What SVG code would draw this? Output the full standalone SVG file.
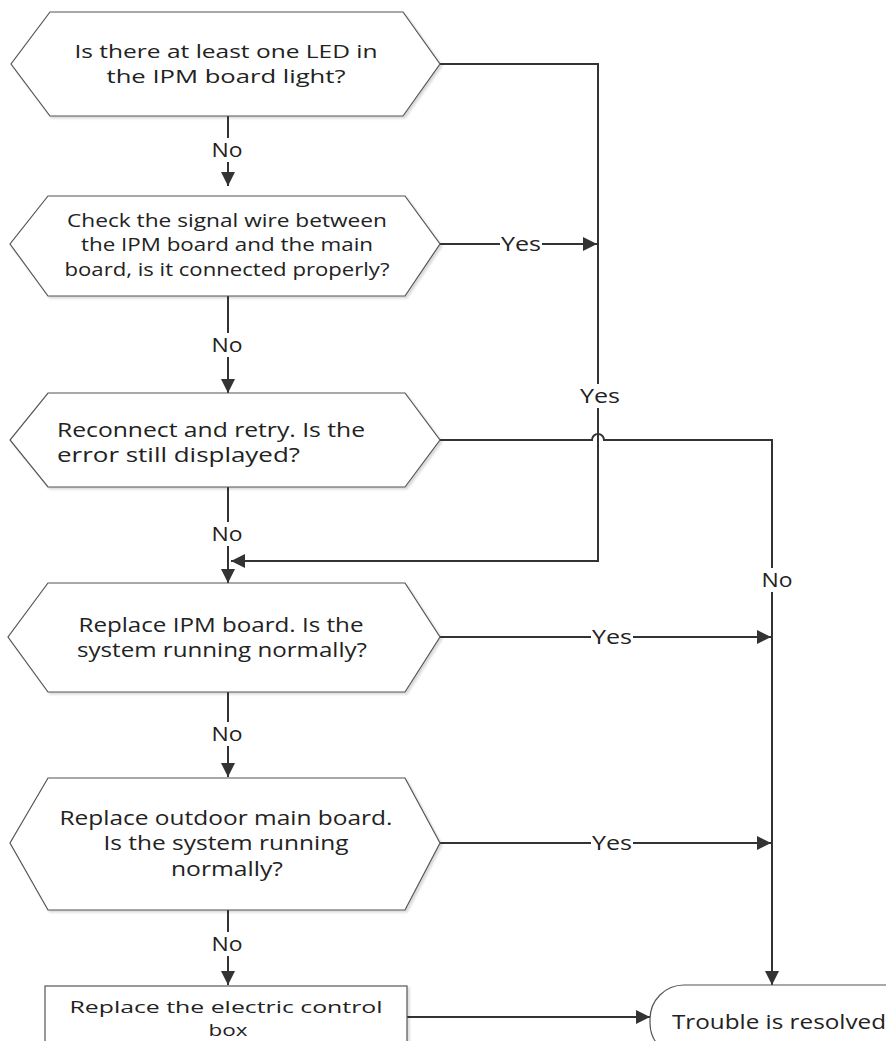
<svg xmlns="http://www.w3.org/2000/svg" width="886" height="1041" viewBox="0 0 886 1041">
<defs>
<style>
.shape{fill:#fff;stroke:#555;stroke-width:1.2}
.t{font-family:"Open Sans","Noto Sans","DejaVu Sans",sans-serif;font-size:18px;fill:#222;text-anchor:middle}
.c{font-family:"Open Sans","Noto Sans","DejaVu Sans",sans-serif;font-size:20px;fill:#222;text-anchor:middle}
.lbl{font-family:"Open Sans","Noto Sans","DejaVu Sans",sans-serif;font-size:20px;fill:#222;text-anchor:middle}
.ln{fill:none;stroke:#333;stroke-width:2}
.bg{fill:#fff}
</style>
<marker id="ahb" viewBox="0 0 10 10" refX="10" refY="5" markerWidth="16" markerHeight="14" markerUnits="userSpaceOnUse" orient="auto">
<path d="M0,0 L10,5 L0,10 Z" fill="#333"/>
</marker>
<filter id="sh" x="-5%" y="-5%" width="110%" height="115%">
<feDropShadow dx="2" dy="2" stdDeviation="1" flood-color="#000" flood-opacity="0.15"/>
</filter>
</defs>

<g id="connectors">
<path class="ln" d="M440,64 H598 V561 H231" marker-end="url(#ahb)"/>
<path class="ln" d="M440,244 H597" marker-end="url(#ahb)"/>
<path class="ln" d="M440,440 H592 A6,6 0 0 1 604,440 H772 V985" marker-end="url(#ahb)"/>
<path class="ln" d="M440,637 H771" marker-end="url(#ahb)"/>
<path class="ln" d="M440,843 H771" marker-end="url(#ahb)"/>
<path class="ln" d="M228,116 V186" marker-end="url(#ahb)"/>
<path class="ln" d="M228,296 V393" marker-end="url(#ahb)"/>
<path class="ln" d="M228,487 V583" marker-end="url(#ahb)"/>
<path class="ln" d="M228,692 V777" marker-end="url(#ahb)"/>
<path class="ln" d="M228,910 V985" marker-end="url(#ahb)"/>
<path class="ln" d="M407,1017 H650" marker-end="url(#ahb)"/>
<rect class="bg" x="210" y="138" width="34" height="24"/>
<text class="lbl" x="227" y="157" textLength="31" lengthAdjust="spacingAndGlyphs">No</text>
<rect class="bg" x="210" y="333" width="34" height="24"/>
<text class="lbl" x="227" y="352" textLength="31" lengthAdjust="spacingAndGlyphs">No</text>
<rect class="bg" x="210" y="522" width="34" height="24"/>
<text class="lbl" x="227" y="541" textLength="31" lengthAdjust="spacingAndGlyphs">No</text>
<rect class="bg" x="210" y="722" width="34" height="24"/>
<text class="lbl" x="227" y="741" textLength="31" lengthAdjust="spacingAndGlyphs">No</text>
<rect class="bg" x="210" y="932" width="34" height="24"/>
<text class="lbl" x="227" y="951" textLength="31" lengthAdjust="spacingAndGlyphs">No</text>
<rect class="bg" x="500" y="232" width="42" height="24"/>
<text class="lbl" x="521" y="251" textLength="40" lengthAdjust="spacingAndGlyphs">Yes</text>
<rect class="bg" x="579" y="384" width="42" height="24"/>
<text class="lbl" x="600" y="403" textLength="40" lengthAdjust="spacingAndGlyphs">Yes</text>
<rect class="bg" x="759" y="568" width="34" height="24"/>
<text class="lbl" x="777" y="587" textLength="31" lengthAdjust="spacingAndGlyphs">No</text>
<rect class="bg" x="591" y="625" width="42" height="24"/>
<text class="lbl" x="612" y="644" textLength="40" lengthAdjust="spacingAndGlyphs">Yes</text>
<rect class="bg" x="591" y="831" width="42" height="24"/>
<text class="lbl" x="612" y="850" textLength="40" lengthAdjust="spacingAndGlyphs">Yes</text>
</g>

<g id="node1">
<polygon class="shape" filter="url(#sh)" points="50,12 403,12 440,64 403,116 50,116 11,64"/>
<text class="t" x="226" y="58" textLength="303" lengthAdjust="spacingAndGlyphs">Is there at least one LED in</text>
<text class="t" x="226" y="83" textLength="239" lengthAdjust="spacingAndGlyphs">the IPM board light?</text>
</g>

<g id="node2">
<polygon class="shape" filter="url(#sh)" points="48,196 405,196 440,244 405,296 48,296 10,244"/>
<text class="t" x="227" y="227" textLength="320" lengthAdjust="spacingAndGlyphs">Check the signal wire between</text>
<text class="t" x="227" y="251" textLength="292" lengthAdjust="spacingAndGlyphs">the IPM board and the main</text>
<text class="t" x="227" y="276" textLength="325" lengthAdjust="spacingAndGlyphs">board, is it connected properly?</text>
</g>

<g id="node3">
<polygon class="shape" filter="url(#sh)" points="48,393 405,393 440,440 405,487 48,487 10,440"/>
<text class="c" x="57" y="437" style="text-anchor:start" textLength="308" lengthAdjust="spacingAndGlyphs">Reconnect and retry. Is the</text>
<text class="c" x="57" y="462" style="text-anchor:start" textLength="243" lengthAdjust="spacingAndGlyphs">error still displayed?</text>
</g>

<g id="node4">
<polygon class="shape" filter="url(#sh)" points="48,583 405,583 440,637 405,692 48,692 8,637"/>
<text class="c" x="221" y="632" textLength="285" lengthAdjust="spacingAndGlyphs">Replace IPM board. Is the</text>
<text class="c" x="222" y="657" textLength="290" lengthAdjust="spacingAndGlyphs">system running normally?</text>
</g>

<g id="node5">
<polygon class="shape" filter="url(#sh)" points="48,778 405,778 440,843 405,910 48,910 10,843"/>
<text class="c" x="226" y="825" textLength="333" lengthAdjust="spacingAndGlyphs">Replace outdoor main board.</text>
<text class="c" x="226" y="850" textLength="245" lengthAdjust="spacingAndGlyphs">Is the system running</text>
<text class="c" x="227" y="876" textLength="112" lengthAdjust="spacingAndGlyphs">normally?</text>
</g>

<g id="node6">
<rect class="shape" filter="url(#sh)" x="45" y="986" width="362" height="70"/>
<text class="c" x="226" y="1013" style="font-size:17px" textLength="313" lengthAdjust="spacingAndGlyphs">Replace the electric control</text>
<text class="c" x="228" y="1036" style="font-size:17px" textLength="39" lengthAdjust="spacingAndGlyphs">box</text>
</g>

<g id="node7">
<rect class="shape" filter="url(#sh)" x="650" y="985" width="290" height="72" rx="34" ry="34"/>
<text class="c" x="672" y="1029" style="text-anchor:start" textLength="214" lengthAdjust="spacingAndGlyphs">Trouble is resolved</text>
</g>
</svg>
